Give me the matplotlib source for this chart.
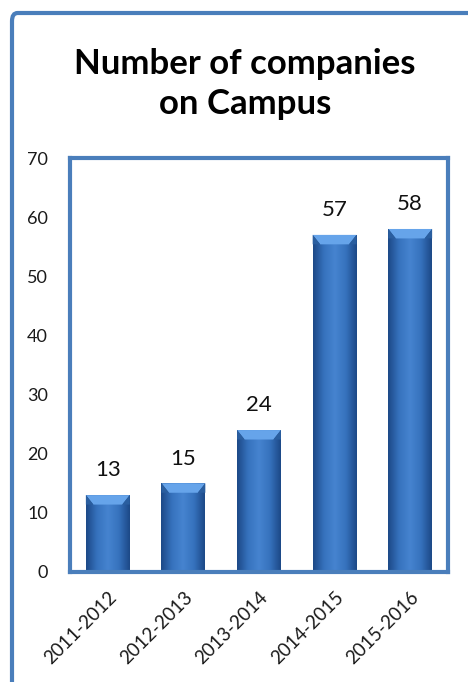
import matplotlib
matplotlib.use("Agg")
import matplotlib.pyplot as plt
import numpy as np
from matplotlib.patches import Polygon, FancyBboxPatch
from matplotlib.colors import LinearSegmentedColormap

years = ["2011-2012", "2012-2013", "2013-2014", "2014-2015", "2015-2016"]
companies = [13, 15, 24, 57, 58]
title = "Number of companies\non Campus"

plt.rcParams["font.family"] = ["Lato", "DejaVu Sans"]

fig = plt.figure(figsize=(4.68, 6.82), dpi=100)

# outer chart frame (only top and left edges visible in the crop)
frame = FancyBboxPatch((12 / 468, -0.05), 1.2, 1 - 13 / 682 + 0.05,
                       boxstyle="round,pad=0,rounding_size=0.012",
                       transform=fig.transFigure, facecolor="white",
                       edgecolor="#4a7ebb", linewidth=3.0, zorder=-5)
fig.patches.append(frame)

fig.text(245 / 468, 1 - 84 / 682, title, ha="center", va="center",
         fontsize=25, fontweight="bold", linespacing=1.32)

ax = fig.add_axes([70 / 468, 1 - 572 / 682, 378 / 468, 414 / 682])
ax.set_zorder(2)
ax.set_facecolor("white")

x = np.arange(len(years))
width = 0.58
bars = ax.bar(x, companies, width=width, color="none", edgecolor="none", zorder=2)

# cylinder-like horizontal shading
cmap = LinearSegmentedColormap.from_list(
    "barshade", ["#1c4886", "#3672bd", "#4684d0", "#3672bd", "#1c4886"])
grad = np.linspace(0, 1, 256).reshape(1, -1)
for rect in bars:
    bx, by = rect.get_x(), rect.get_y()
    bw, bh = rect.get_width(), rect.get_height()
    im = ax.imshow(grad, cmap=cmap, aspect="auto", extent=(bx, bx + bw, by, by + bh),
                   zorder=2, interpolation="bicubic")
    im.set_clip_path(rect)
    # bevelled top
    dx, dy = 0.1, 1.6
    top = by + bh
    ax.add_patch(Polygon([(bx, top), (bx + bw, top), (bx + bw - dx, top - dy), (bx + dx, top - dy)],
                         closed=True, facecolor="#66a4ea", edgecolor="none", zorder=3))
    ax.add_patch(Polygon([(bx, top), (bx + dx, top - dy), (bx, top - dy)],
                         closed=True, facecolor="#2a5e9f", edgecolor="none", zorder=3))
    ax.add_patch(Polygon([(bx + bw, top), (bx + bw - dx, top - dy), (bx + bw, top - dy)],
                         closed=True, facecolor="#2a5e9f", edgecolor="none", zorder=3))
    ax.text(bx + bw / 2, top + 2.5, str(int(bh)), ha="center", va="bottom",
            fontsize=16, color="#111111")

ax.set_xlim(-0.5, len(years) - 0.5)
ax.set_ylim(0, 70)
ax.set_yticks(range(0, 71, 10))
ax.set_xticks(x)
ax.set_xticklabels(years, rotation=45, ha="right", rotation_mode="anchor", fontsize=13.5)
ax.tick_params(axis="y", labelsize=13, length=0, pad=16)
ax.tick_params(axis="x", length=0, pad=12)
for lab in ax.get_yticklabels() + ax.get_xticklabels():
    lab.set_color("#1a1a1a")

for sp in ax.spines.values():
    sp.set_color("#4a7ebb")
    sp.set_linewidth(3.0)

fig.savefig("out.png", dpi=100)
